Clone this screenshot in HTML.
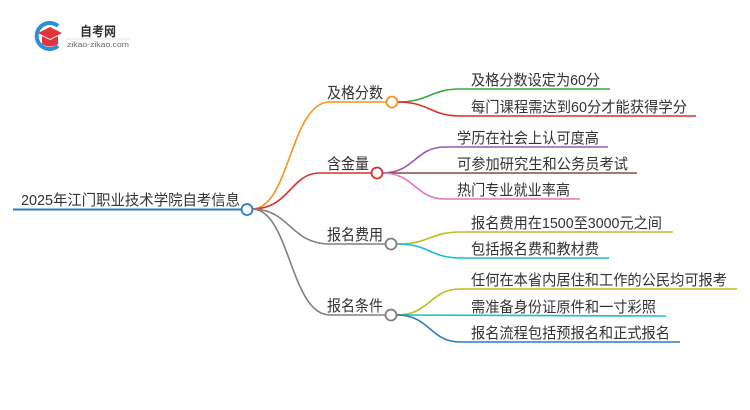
<!DOCTYPE html>
<html><head><meta charset="utf-8"><style>
html,body{margin:0;padding:0;background:#fff;width:750px;height:410px;overflow:hidden}
svg text{font-family:"Liberation Sans","Noto Sans CJK SC",sans-serif;fill:#333}
</style></head><body>
<svg width="750" height="410" viewBox="0 0 750 410" xmlns="http://www.w3.org/2000/svg">
<!-- logo -->
<path d="M58 26 A13 13 0 1 0 58 46" fill="none" stroke="#2a8fd8" stroke-width="4"/>
<path d="M38 33 L50 27 L62 33 L50 39 Z" fill="#e0353a"/>
<path d="M42 36 L42 44 Q50 49 58 44 L58 36 L50 40 Z" fill="#e0353a"/>
<text x="80" y="36" font-size="13" font-weight="bold" style="fill:#333" textLength="36" lengthAdjust="spacingAndGlyphs">自考网</text>
<line x1="66" y1="39" x2="130" y2="39" stroke="#ddd" stroke-width="0.8"/>
<text x="67" y="47" font-size="7.5" style="fill:#666" textLength="62" lengthAdjust="spacingAndGlyphs">zikao-zikao.com</text>

<!-- root -->
<text x="21" y="205" font-size="15" textLength="219" lengthAdjust="spacingAndGlyphs">2025年江门职业技术学院自考信息</text>
<line x1="13" y1="209.5" x2="242" y2="209.5" stroke="#2b7bc0" stroke-width="2"/>

<!-- main branches -->
<path d="M252 209 C290 209 290 102 330 102 L386 102" fill="none" stroke="#f7931e" stroke-width="1.6"/>
<path d="M252 209 C290 209 290 173 320 173 L371 173" fill="none" stroke="#d8302f" stroke-width="1.6"/>
<path d="M252 209 C290 209 290 244 330 244 L386 244" fill="none" stroke="#808080" stroke-width="1.6"/>
<path d="M252 209 C290 209 290 315 330 315 L386 315" fill="none" stroke="#808080" stroke-width="1.6"/>
<circle cx="247" cy="209.5" r="5.5" fill="#fff" stroke="#2b7bc0" stroke-width="1.8"/>

<text x="327" y="98" font-size="15.5" textLength="56" lengthAdjust="spacingAndGlyphs">及格分数</text>
<text x="327" y="169" font-size="15.5" textLength="42" lengthAdjust="spacingAndGlyphs">含金量</text>
<text x="327" y="240" font-size="15.5" textLength="56" lengthAdjust="spacingAndGlyphs">报名费用</text>
<text x="327" y="311" font-size="15.5" textLength="56" lengthAdjust="spacingAndGlyphs">报名条件</text>

<!-- leaves of 及格分数 -->
<path d="M397 102 C430 102 430 89 460 89 L610 89" fill="none" stroke="#3aa83a" stroke-width="1.6"/>
<path d="M397 102 C430 102 430 116 460 116 L696 116" fill="none" stroke="#d8302f" stroke-width="1.6"/>
<circle cx="392" cy="102" r="5.5" fill="#fff" stroke="#f7931e" stroke-width="1.8"/>
<text x="471" y="85" font-size="15" textLength="129" lengthAdjust="spacingAndGlyphs">及格分数设定为60分</text>
<text x="471" y="112" font-size="15" textLength="216" lengthAdjust="spacingAndGlyphs">每门课程需达到60分才能获得学分</text>

<!-- 含金量 -->
<path d="M382 173 C415 173 415 147 445 147 L608 147" fill="none" stroke="#9b59b6" stroke-width="1.6"/>
<path d="M382 173 L637 173" fill="none" stroke="#8b4a3a" stroke-width="1.6"/>
<path d="M382 173 C415 173 415 199 445 199 L580 199" fill="none" stroke="#e377c2" stroke-width="1.6"/>
<circle cx="377" cy="173" r="5.5" fill="#fff" stroke="#d8302f" stroke-width="1.8"/>
<text x="457" y="143" font-size="15" textLength="142" lengthAdjust="spacingAndGlyphs">学历在社会上认可度高</text>
<text x="457" y="169" font-size="15" textLength="171" lengthAdjust="spacingAndGlyphs">可参加研究生和公务员考试</text>
<text x="457" y="195" font-size="15" textLength="113" lengthAdjust="spacingAndGlyphs">热门专业就业率高</text>

<!-- 报名费用 -->
<path d="M397 244 C430 244 430 232 460 232 L673 232" fill="none" stroke="#bcbd22" stroke-width="1.6"/>
<path d="M397 244 C430 244 430 258 460 258 L609 258" fill="none" stroke="#17becf" stroke-width="1.6"/>
<circle cx="391" cy="244" r="5.5" fill="#fff" stroke="#808080" stroke-width="1.8"/>
<text x="471" y="228" font-size="15" textLength="191" lengthAdjust="spacingAndGlyphs">报名费用在1500至3000元之间</text>
<text x="471" y="254" font-size="15" textLength="128" lengthAdjust="spacingAndGlyphs">包括报名费和教材费</text>

<!-- 报名条件 -->
<path d="M397 315 C430 315 430 289 460 289 L737 289" fill="none" stroke="#bcbd22" stroke-width="1.6"/>
<path d="M397 315 L666 316" fill="none" stroke="#17becf" stroke-width="1.6"/>
<path d="M397 315 C430 315 430 342 460 342 L680 342" fill="none" stroke="#2b7bc0" stroke-width="1.6"/>
<circle cx="391" cy="315" r="5.5" fill="#fff" stroke="#808080" stroke-width="1.8"/>
<text x="471" y="285" font-size="15" textLength="256" lengthAdjust="spacingAndGlyphs">任何在本省内居住和工作的公民均可报考</text>
<text x="471" y="312" font-size="15" textLength="185" lengthAdjust="spacingAndGlyphs">需准备身份证原件和一寸彩照</text>
<text x="471" y="338" font-size="15" textLength="199" lengthAdjust="spacingAndGlyphs">报名流程包括预报名和正式报名</text>
</svg>
</body></html>
